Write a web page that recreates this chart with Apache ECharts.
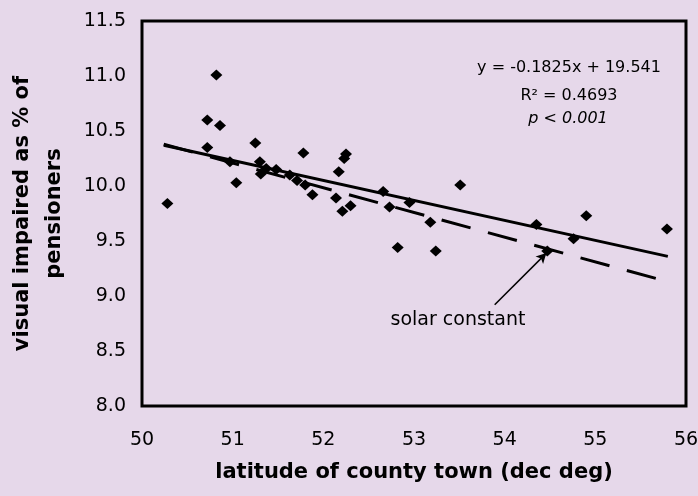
<!DOCTYPE html>
<html>
<head>
<meta charset="utf-8">
<script src="https://cdn.jsdelivr.net/npm/echarts@6.0.0/dist/echarts.min.js"></script>
<style>
  html, body { margin: 0; padding: 0; background: #e6d8ea; }
  #main { width: 698px; height: 496px; }
</style>
</head>
<body>
<div id="main"></div>
<script>
// latitude of county town vs visual impaired share
const towns = [
  [50.28, 9.84], [50.72, 10.60], [50.82, 11.01], [50.86, 10.55], [50.72, 10.35],
  [50.97, 10.22], [51.04, 10.03], [51.25, 10.39], [51.30, 10.22], [51.31, 10.11],
  [51.37, 10.16], [51.48, 10.15], [51.63, 10.10], [51.71, 10.05], [51.78, 10.30],
  [51.80, 10.01], [51.88, 9.92], [52.14, 9.89], [52.17, 10.13], [52.21, 9.77],
  [52.23, 10.25], [52.25, 10.29], [52.30, 9.82], [52.66, 9.95], [52.73, 9.81],
  [52.82, 9.44], [52.95, 9.85], [53.18, 9.67], [53.24, 9.41], [53.51, 10.01],
  [54.35, 9.65], [54.47, 9.41], [54.76, 9.52], [54.90, 9.73], [55.79, 9.61]
]
const trendLine = [[50.24, 10.37], [55.80, 9.36]]
const solarLine = [[50.24, 10.38], [55.80, 9.13]]
const arrowFrom = [53.89, 8.92]
const arrowTo = [54.46, 9.39]

const xTicks = { min: 50, max: 56, step: 1 }
const yTicks = { min: 8, max: 11.5, step: 0.5 }

const fitText = ["y = -0.1825x + 19.541", "R² = 0.4693", "p < 0.001"]

const font = "DejaVu Sans"
const ink = "#000"

let chart = echarts.init(document.getElementById("main"))

// centred label helper for the fit box and the arrow caption
const note = (text, x, y, size, style) => ({
  type: "text", x: x, y: y, silent: true,
  style: {
    text: text,
    font: `${style || ""} ${size}px "${font}"`,
    fill: ink, align: "center", verticalAlign: "middle"
  }
})

let option = {
  backgroundColor: "#e6d8ea",
  animation: false,
  textStyle: { fontFamily: font, color: ink },
  grid: {
    left: 142, right: 12, top: 21, bottom: 90,
    show: true,
    borderColor: ink,
    borderWidth: 3,
    backgroundColor: "transparent",
    containLabel: false,
    outerBoundsMode: "none"
  },
  xAxis: {
    type: "value",
    min: xTicks.min, max: xTicks.max, interval: xTicks.step,
    name: "latitude of county town (dec deg)",
    nameLocation: "middle",
    nameGap: 56,
    nameMoveOverlap: false,
    nameTextStyle: { fontFamily: font, fontSize: 21, fontWeight: "bold", color: ink },
    axisLine: { show: false },
    axisTick: { show: false },
    splitLine: { show: false },
    axisLabel: { fontFamily: font, fontSize: 19, color: ink, margin: 25 }
  },
  yAxis: {
    type: "value",
    min: yTicks.min, max: yTicks.max, interval: yTicks.step,
    name: "visual impaired as % of\npensioners",
    nameLocation: "middle",
    nameGap: 71,
    nameMoveOverlap: false,
    nameTextStyle: { fontFamily: font, fontSize: 21, fontWeight: "bold", color: ink, lineHeight: 32 },
    axisLine: { show: false },
    axisTick: { show: false },
    splitLine: { show: false },
    axisLabel: {
      fontFamily: font, fontSize: 19, color: ink, margin: 16,
      formatter: v => v.toFixed(1)
    }
  },
  series: [
    {
      type: "line",
      data: solarLine,
      showSymbol: false,
      lineStyle: { color: ink, width: 3, type: [30, 18] },
      z: 2,
      markLine: {
        silent: true,
        symbol: ["none", "arrow"],
        symbolSize: [8, 10],
        label: { show: false },
        lineStyle: { color: ink, width: 1.5, type: "solid" },
        data: [[{ coord: arrowFrom }, { coord: arrowTo }]]
      }
    },
    {
      type: "line",
      data: trendLine,
      showSymbol: false,
      lineStyle: { color: ink, width: 3 },
      z: 2
    },
    {
      type: "scatter",
      data: towns,
      symbol: "diamond",
      symbolSize: [12, 11],
      itemStyle: { color: ink, opacity: 1 },
      z: 3
    }
  ],
  graphic: [
    note(fitText[0], 569, 68, 16),
    note(fitText[1], 569, 96, 16),
    note(fitText[2], 568, 119, 16, "italic"),
    note("solar constant", 458, 320, 19)
  ]
}

chart.setOption(option)
</script>
</body>
</html>
